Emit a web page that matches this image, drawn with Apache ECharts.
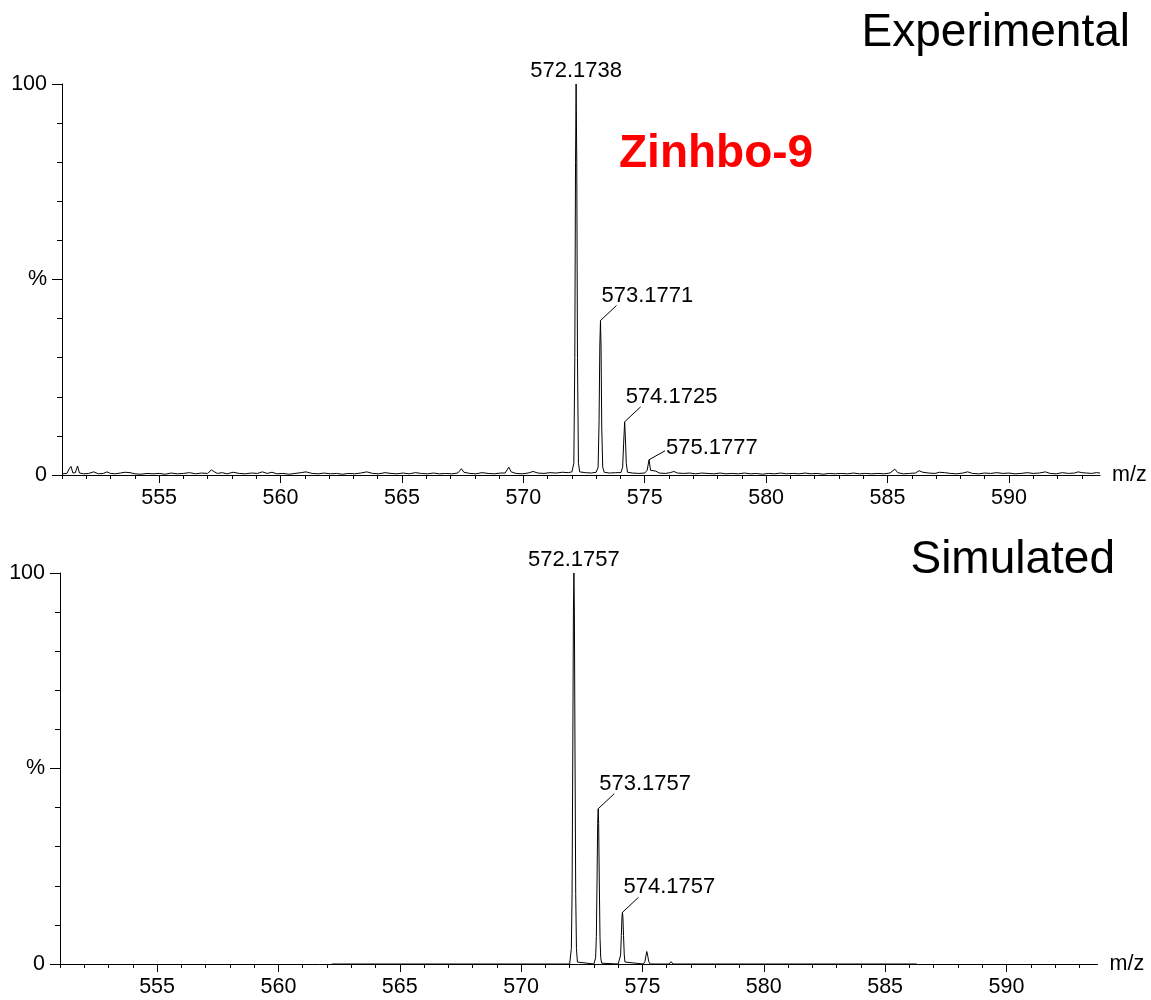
<!DOCTYPE html>
<html>
<head>
<meta charset="utf-8">
<title>Zinhbo-9 mass spectrum</title>
<script src="https://cdn.jsdelivr.net/npm/echarts@6/dist/echarts.min.js"></script>
<style>
  html, body { margin: 0; padding: 0; background: #fff; }
  #chart { width: 1151px; height: 1000px; }
</style>
</head>
<body>
<div id="chart"></div>
<script>
// ---- m/z axis range and tick values ----
const mzMin = 551;
const mzMax = 593.75;
const mzMajorTicks = [555, 560, 565, 570, 575, 580, 585, 590];
const mzMinorTicks = [551, 552, 553, 554, 555, 556, 557, 558, 559, 560, 561, 562, 563, 564, 565, 566, 567, 568, 569, 570,
                      571, 572, 573, 574, 575, 576, 577, 578, 579, 580, 581, 582, 583, 584, 585, 586, 587, 588, 589, 590,
                      591, 592, 593];
const yLabelValues = [0, 50, 100];
const yLabelTexts = ['0', '%', '100'];

// ---- experimental profile spectrum [m/z, relative intensity %] ----
const experimentalProfile = [
  [551.00, 0.3], [551.20, 0.4], [551.30, 1.6], [551.37, 2.2], [551.45, 0.5], [551.55, 0.6], [551.64, 2.3], [551.72, 0.5],
  [551.90, 0.3], [552.10, 0.4], [552.30, 0.8], [552.50, 0.3], [552.70, 0.4], [552.85, 0.8], [553.00, 0.4], [553.20, 0.3],
  [553.40, 0.5], [553.60, 0.7], [553.80, 0.6], [554.00, 0.3], [554.25, 0.2], [554.50, 0.4], [554.75, 0.3], [555.00, 0.4],
  [555.25, 0.2], [555.50, 0.5], [555.75, 0.3], [556.00, 0.4], [556.25, 0.6], [556.50, 0.3], [556.75, 0.5], [557.00, 0.4],
  [557.15, 1.3], [557.25, 0.9], [557.40, 0.4], [557.60, 0.6], [557.80, 0.3], [558.05, 0.7], [558.30, 0.4], [558.55, 0.3],
  [558.80, 0.5], [559.05, 0.4], [559.25, 0.8], [559.45, 0.4], [559.65, 0.7], [559.85, 0.3], [560.10, 0.4], [560.35, 0.2],
  [560.60, 0.4], [560.85, 0.6], [561.05, 0.8], [561.30, 0.4], [561.55, 0.3], [561.80, 0.5], [562.05, 0.3], [562.30, 0.4],
  [562.55, 0.2], [562.80, 0.4], [563.05, 0.3], [563.30, 0.5], [563.55, 0.8], [563.80, 0.4], [564.05, 0.3], [564.30, 0.6],
  [564.55, 0.4], [564.80, 0.3], [565.05, 0.5], [565.30, 0.3], [565.55, 0.6], [565.80, 0.4], [566.05, 0.3], [566.30, 0.5],
  [566.55, 0.3], [566.80, 0.4], [567.05, 0.3], [567.30, 0.5], [567.45, 1.6], [567.55, 0.7], [567.80, 0.4], [568.05, 0.3],
  [568.30, 0.6], [568.55, 0.4], [568.80, 0.3], [569.05, 0.5], [569.25, 0.5], [569.40, 2.0], [569.50, 0.8], [569.70, 0.4],
  [569.95, 0.3], [570.20, 0.5], [570.40, 0.9], [570.60, 0.5], [570.85, 0.4], [571.10, 0.6], [571.35, 0.5], [571.60, 0.7],
  [571.85, 0.6], [572.00, 0.8], [572.08, 3], [572.12, 30], [572.15, 80], [572.1738, 100], [572.20, 80], [572.23, 30],
  [572.27, 3], [572.32, 0.8], [572.55, 0.6], [572.80, 0.5], [573.00, 0.7], [573.08, 2], [573.12, 14], [573.15, 33],
  [573.1771, 39.5], [573.20, 33], [573.23, 12], [573.27, 2], [573.33, 0.7], [573.55, 0.5], [573.80, 0.6], [574.02, 0.6],
  [574.09, 2], [574.13, 8], [574.1725, 13.6], [574.20, 10], [574.24, 3], [574.29, 0.7], [574.50, 0.5], [574.75, 0.4],
  [575.00, 0.5], [575.10, 1.2], [575.1777, 3.9], [575.24, 1.2], [575.32, 0.9], [575.45, 1.0], [575.60, 0.5], [575.85, 0.4],
  [576.05, 0.6], [576.20, 0.9], [576.35, 0.5], [576.60, 0.4], [576.85, 0.5], [577.10, 0.3], [577.35, 0.5], [577.60, 0.4],
  [577.85, 0.3], [578.10, 0.5], [578.35, 0.3], [578.60, 0.4], [578.85, 0.3], [579.10, 0.5], [579.35, 0.3], [579.60, 0.4],
  [579.85, 0.2], [580.10, 0.4], [580.35, 0.3], [580.60, 0.5], [580.85, 0.3], [581.10, 0.4], [581.35, 0.3], [581.60, 0.5],
  [581.85, 0.3], [582.10, 0.4], [582.35, 0.2], [582.60, 0.4], [582.85, 0.3], [583.10, 0.4], [583.35, 0.3], [583.60, 0.5],
  [583.85, 0.3], [584.10, 0.4], [584.35, 0.3], [584.60, 0.4], [584.85, 0.3], [585.10, 0.5], [585.30, 1.5], [585.42, 0.6],
  [585.65, 0.3], [585.90, 0.4], [586.15, 0.5], [586.30, 1.1], [586.45, 0.7], [586.70, 0.5], [586.95, 0.4], [587.15, 0.7],
  [587.35, 0.6], [587.60, 0.4], [587.85, 0.3], [588.10, 0.5], [588.30, 0.8], [588.50, 0.4], [588.75, 0.3], [589.00, 0.5],
  [589.25, 0.4], [589.50, 0.6], [589.75, 0.4], [590.00, 0.5], [590.25, 0.3], [590.50, 0.4], [590.75, 0.6], [591.00, 0.4],
  [591.25, 0.5], [591.50, 0.8], [591.70, 0.4], [591.95, 0.3], [592.20, 0.6], [592.45, 0.4], [592.70, 0.5], [592.85, 0.8],
  [593.00, 0.6], [593.20, 0.5], [593.40, 0.4], [593.60, 0.6], [593.75, 0.5]
];

// ---- simulated isotope pattern [m/z, relative intensity %] ----
const simulatedProfile = [
  [562.20, 0], [572.00, 0], [572.03, 0.5], [572.07, 4], [572.10, 18], [572.13, 55], [572.155, 90], [572.1757, 100],
  [572.195, 90], [572.22, 55], [572.25, 18], [572.28, 4], [572.32, 0.5], [572.36, 0],
  [573.00, 0], [573.03, 0.2], [573.07, 1.6], [573.10, 7], [573.13, 22], [573.155, 36], [573.1757, 39.7],
  [573.195, 36], [573.22, 22], [573.25, 7], [573.28, 1.6], [573.32, 0.2], [573.36, 0],
  [574.00, 0], [574.03, 0.1], [574.07, 0.5], [574.10, 2.3], [574.13, 7.3], [574.155, 12], [574.1757, 13.2],
  [574.195, 12], [574.22, 7.3], [574.25, 2.3], [574.28, 0.5], [574.32, 0.1], [574.36, 0],
  [575.04, 0], [575.10, 0.6], [575.14, 2], [575.18, 3.2], [575.22, 2], [575.26, 0.6], [575.32, 0],
  [576.10, 0], [576.15, 0.3], [576.18, 0.6], [576.21, 0.3], [576.26, 0], [586.30, 0]
];

// ---- annotated peaks ----
const experimentalPeakMz = [572.1738, 573.1771, 574.1725, 575.1777];
const experimentalPeakHeight = [100, 39.5, 13.6, 3.9];
const simulatedPeakMz = [572.1757, 573.1757, 574.1757];
const simulatedPeakHeight = [100, 39.7, 13.2];

// label placement styles: 'top' = centred above apex, 'leader' = text above a diagonal leader,
// 'side' = text to the right of a short leader
const experimentalLabelStyle = ['top', 'leader', 'leader', 'side'];
const simulatedLabelStyle = ['top', 'leader', 'leader'];

const FONT = '"Liberation Sans", Arial, Helvetica, sans-serif';
const TICK_FONT_SIZE = 21.5;
const PEAK_FONT_SIZE = 22;

function peakLabelSeries(xAxisIndex, yAxisIndex, mzs, heights, styles) {
  return {
    type: 'custom',
    xAxisIndex: xAxisIndex,
    yAxisIndex: yAxisIndex,
    silent: true,
    clip: false,
    z: 5,
    data: mzs.map((mz, i) => [mz, heights[i], i]),
    renderItem: function (params, api) {
      const mz = api.value(0);
      const h = api.value(1);
      const kind = styles[api.value(2)];
      const p = api.coord([mz, h]);
      const text = mz.toFixed(4);
      const font = PEAK_FONT_SIZE + 'px ' + FONT;
      if (kind === 'top') {
        return {
          type: 'text',
          style: { x: p[0], y: p[1] - 13, text: text, font: font, fill: '#000', align: 'center', verticalAlign: 'middle' }
        };
      }
      if (kind === 'side') {
        return {
          type: 'group',
          children: [
            { type: 'line', shape: { x1: p[0], y1: p[1], x2: p[0] + 16, y2: p[1] - 9 }, style: { stroke: '#000', lineWidth: 1 } },
            { type: 'text', style: { x: p[0] + 17, y: p[1] - 12, text: text, font: font, fill: '#000', align: 'left', verticalAlign: 'middle' } }
          ]
        };
      }
      return {
        type: 'group',
        children: [
          { type: 'line', shape: { x1: p[0], y1: p[1], x2: p[0] + 16, y2: p[1] - 15 }, style: { stroke: '#000', lineWidth: 1 } },
          { type: 'text', style: { x: p[0] + 1, y: p[1] - 25, text: text, font: font, fill: '#000', align: 'left', verticalAlign: 'middle' } }
        ]
      };
    }
  };
}

function mzAxes(gridIndex) {
  const common = {
    type: 'value', gridIndex: gridIndex, min: mzMin, max: mzMax, position: 'bottom',
    splitLine: { show: false }
  };
  return [
    Object.assign({}, common, {
      axisLine: { show: true, lineStyle: { color: '#000', width: 1 } },
      axisTick: { show: true, length: 4, customValues: mzMinorTicks, lineStyle: { color: '#000', width: 1 } },
      axisLabel: { show: true, customValues: mzMajorTicks, color: '#000', fontSize: TICK_FONT_SIZE, fontFamily: FONT, margin: 12 },
      name: 'm/z', nameLocation: 'end', nameGap: 12,
      nameTextStyle: { color: '#000', fontSize: TICK_FONT_SIZE, fontFamily: FONT, verticalAlign: 'middle' }
    }),
    Object.assign({}, common, {
      axisLine: { show: false },
      axisTick: { show: true, length: 8, customValues: mzMajorTicks, lineStyle: { color: '#000', width: 1 } },
      axisLabel: { show: false }
    })
  ];
}

function intensityAxes(gridIndex) {
  const common = { type: 'value', gridIndex: gridIndex, min: 0, max: 100, position: 'left', splitLine: { show: false } };
  return [
    Object.assign({}, common, {
      interval: 10,
      axisLine: { show: true, lineStyle: { color: '#000', width: 1 } },
      axisTick: { show: true, length: 5, lineStyle: { color: '#000', width: 1 } },
      axisLabel: { show: false }
    }),
    Object.assign({}, common, {
      interval: 50,
      axisLine: { show: false },
      axisTick: { show: true, length: 10, lineStyle: { color: '#000', width: 1 } },
      axisLabel: {
        show: true, color: '#000', fontSize: TICK_FONT_SIZE, fontFamily: FONT, margin: 15,
        formatter: v => yLabelTexts[yLabelValues.indexOf(v)] || ''
      }
    })
  ];
}

const chart = echarts.init(document.getElementById('chart'), null, { renderer: 'canvas' });

chart.setOption({
  animation: false,
  backgroundColor: '#fff',
  grid: [
    { left: 62, top: 84, width: 1038, height: 391, outerBoundsMode: 'none', containLabel: false },
    { left: 60, top: 573, width: 1037.5, height: 391, outerBoundsMode: 'none', containLabel: false }
  ],
  xAxis: mzAxes(0).concat(mzAxes(1)),
  yAxis: intensityAxes(0).concat(intensityAxes(1)),
  graphic: [
    { type: 'text', right: 21, top: 10, style: { text: 'Experimental', font: '46px ' + FONT, fill: '#000' } },
    { type: 'text', right: 36, top: 537, style: { text: 'Simulated', font: '46px ' + FONT, fill: '#000' } },
    { type: 'text', left: 619, top: 131, style: { text: 'Zinhbo-9', font: 'bold 46px ' + FONT, fill: '#ff0000' } }
  ],
  series: [
    {
      name: 'Experimental', type: 'line', xAxisIndex: 0, yAxisIndex: 0,
      data: experimentalProfile, showSymbol: false, silent: true, z: 3,
      lineStyle: { color: '#000', width: 1 }
    },
    {
      name: 'Simulated', type: 'line', xAxisIndex: 2, yAxisIndex: 2,
      data: simulatedProfile, showSymbol: false, silent: true, z: 3,
      lineStyle: { color: '#000', width: 1 }
    },
    peakLabelSeries(0, 0, experimentalPeakMz, experimentalPeakHeight, experimentalLabelStyle),
    peakLabelSeries(2, 2, simulatedPeakMz, simulatedPeakHeight, simulatedLabelStyle)
  ]
});
</script>
</body>
</html>
